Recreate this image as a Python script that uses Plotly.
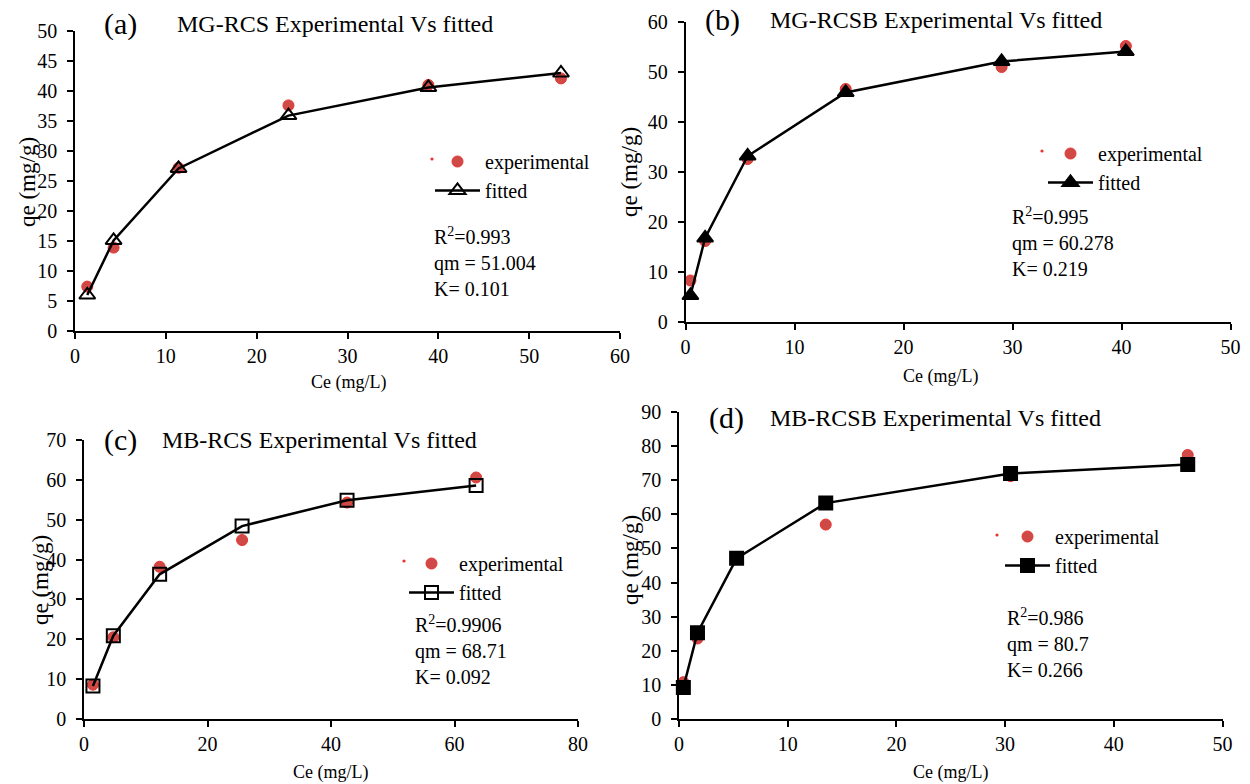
import plotly.graph_objects as go

# Langmuir isotherm panels: experimental points vs fitted curve
FONT = "Liberation Serif, Times New Roman, serif"
RED_FILL = "#cf4a47"
RED_EDGE = "#e8332f"

# (a) MG-RCS
a_ce = [1.35, 4.25, 11.4, 23.5, 38.9, 53.5]
a_exp = [7.4, 13.9, 27.2, 37.6, 41.0, 42.1]
a_fit = [6.0, 15.1, 27.1, 35.9, 40.6, 43.0]

# (b) MG-RCSB
b_ce = [0.45, 1.8, 5.7, 14.7, 29.0, 40.4]
b_exp = [8.3, 16.2, 32.6, 46.6, 51.0, 55.2]
b_fit = [5.3, 16.8, 33.2, 45.9, 52.1, 54.1]

# (c) MB-RCS
c_ce = [1.45, 4.75, 12.25, 25.6, 42.6, 63.5]
c_exp = [8.6, 20.5, 38.2, 44.9, 54.3, 60.6]
c_fit = [8.3, 20.9, 36.3, 48.4, 54.9, 58.6]

# (d) MB-RCSB
d_ce = [0.4, 1.7, 5.3, 13.5, 30.5, 46.8]
d_exp = [10.8, 23.6, 47.1, 57.0, 71.2, 77.4]
d_fit = [9.2, 25.3, 47.1, 63.3, 72.0, 74.6]

panels = [
    dict(ce=a_ce, exp=a_exp, fit=a_fit, sym="triangle-up-open", msize=14,
         xr=60, xd=10, yr=50, yd=5, label="(a)", title="MG-RCS Experimental Vs fitted",
         stats="R<sup>2</sup>=0.993<br>qm = 51.004<br>K= 0.101"),
    dict(ce=b_ce, exp=b_exp, fit=b_fit, sym="triangle-up", msize=14,
         xr=50, xd=10, yr=60, yd=10, label="(b)", title="MG-RCSB Experimental Vs fitted",
         stats="R<sup>2</sup>=0.995<br>qm = 60.278<br>K= 0.219"),
    dict(ce=c_ce, exp=c_exp, fit=c_fit, sym="square-open", msize=13,
         xr=80, xd=20, yr=70, yd=10, label="(c)", title="MB-RCS Experimental Vs fitted",
         stats="R<sup>2</sup>=0.9906<br>qm = 68.71<br>K= 0.092"),
    dict(ce=d_ce, exp=d_exp, fit=d_fit, sym="square", msize=13,
         xr=50, xd=10, yr=90, yd=10, label="(d)", title="MB-RCSB Experimental Vs fitted",
         stats="R<sup>2</sup>=0.986<br>qm = 80.7<br>K= 0.266"),
]

W, H = 1250, 784

def px_x(v):
    return v / W

def px_y(v):
    return 1 - v / H

# plot-area pixel boxes: (left, right, bottom, top)
boxes = [(75, 620, 331, 31), (685.5, 1230.5, 322, 22), (84, 578, 719, 440), (679, 1222.5, 719, 412)]
# text placements in pixels
label_pos = [(120, 24), (722, 20), (120, 440), (726, 418)]
title_pos = [(175, 24), (768, 20), (160, 440), (768, 418)]
stats_pos = [(432, 262), (1010, 242), (413, 650), (1005, 643)]
legend_pos = [(430, 142), (1043, 134), (404, 544), (1000, 517)]
ldot_pos = [(432, 159), (1042, 151), (404, 561), (997, 535)]
ytitle_pos = [(27, 182), (630, 172), (40, 580), (630, 560)]
xtitle_pos = [(348, 383), (940, 376), (330, 772), (950, 772)]

fig = go.Figure()
layout = dict(width=W, height=H, margin=dict(l=0, r=0, t=0, b=0, autoexpand=False),
              paper_bgcolor="white", plot_bgcolor="white",
              font=dict(family=FONT, size=20, color="black"),
              annotations=[], shapes=[])

for i, p in enumerate(panels):
    n = "" if i == 0 else str(i + 1)
    xa, ya = "x" + n, "y" + n
    leg = "legend" + n
    fig.add_trace(go.Scatter(
        x=p["ce"], y=p["exp"], mode="markers", name="experimental",
        marker=dict(symbol="circle", size=11, color=RED_FILL, line=dict(color=RED_EDGE, width=1)),
        xaxis=xa, yaxis=ya, legend=leg, cliponaxis=False))
    fig.add_trace(go.Scatter(
        x=p["ce"], y=p["fit"], mode="lines+markers", name="fitted",
        line=dict(color="black", width=2.5),
        marker=dict(symbol=p["sym"], size=p["msize"], color="black", line=dict(color="black", width=2)),
        xaxis=xa, yaxis=ya, legend=leg, cliponaxis=False))

    l, r, b, t = boxes[i]
    axis_common = dict(showline=True, linecolor="black", linewidth=1.5, ticks="outside",
                       ticklen=6, tickwidth=1.5, tickcolor="black", showgrid=False,
                       zeroline=False, automargin=False,
                       tickfont=dict(family=FONT, size=20, color="black"))
    layout["xaxis" + n] = dict(domain=[px_x(l), px_x(r)], range=[0, p["xr"]], dtick=p["xd"],
                               tick0=0, anchor=ya, **axis_common)
    layout["yaxis" + n] = dict(domain=[px_y(b), px_y(t)], range=[0, p["yr"]], dtick=p["yd"],
                               tick0=0, anchor=xa, ticklabelstandoff=6, **axis_common)

    lx, ly = legend_pos[i]
    layout[leg] = dict(x=px_x(lx), y=px_y(ly), xanchor="left", yanchor="top",
                       bgcolor="rgba(0,0,0,0)", itemwidth=45,
                       font=dict(family=FONT, size=20, color="black"), tracegroupgap=0)

    # small stray marker dot beside the legend's experimental entry
    dx, dy = ldot_pos[i]
    layout["shapes"].append(dict(type="circle", xref="paper", yref="paper",
                                 x0=px_x(dx - 1.6), x1=px_x(dx + 1.6),
                                 y0=px_y(dy + 1.6), y1=px_y(dy - 1.6),
                                 fillcolor=RED_EDGE, line=dict(width=0)))

    ann = layout["annotations"]
    x0, y0 = label_pos[i]
    ann.append(dict(text=p["label"], x=px_x(x0), y=px_y(y0), xref="paper", yref="paper",
                    xanchor="center", yanchor="middle", showarrow=False,
                    font=dict(family=FONT, size=30)))
    x0, y0 = title_pos[i]
    ann.append(dict(text=p["title"], x=px_x(x0), y=px_y(y0), xref="paper", yref="paper",
                    xanchor="left", yanchor="middle", showarrow=False,
                    font=dict(family=FONT, size=24)))
    x0, y0 = stats_pos[i]
    ann.append(dict(text=p["stats"], x=px_x(x0), y=px_y(y0), xref="paper", yref="paper",
                    xanchor="left", yanchor="middle", align="left", showarrow=False,
                    font=dict(family=FONT, size=20)))
    x0, y0 = ytitle_pos[i]
    ann.append(dict(text="qe (mg/g)", x=px_x(x0), y=px_y(y0), xref="paper", yref="paper",
                    xanchor="center", yanchor="middle", textangle=-90, showarrow=False,
                    font=dict(family=FONT, size=23)))
    x0, y0 = xtitle_pos[i]
    ann.append(dict(text="Ce (mg/L)", x=px_x(x0), y=px_y(y0), xref="paper", yref="paper",
                    xanchor="center", yanchor="middle", showarrow=False,
                    font=dict(family=FONT, size=18)))

fig.update_layout(**layout)
fig.write_html("out.html")
